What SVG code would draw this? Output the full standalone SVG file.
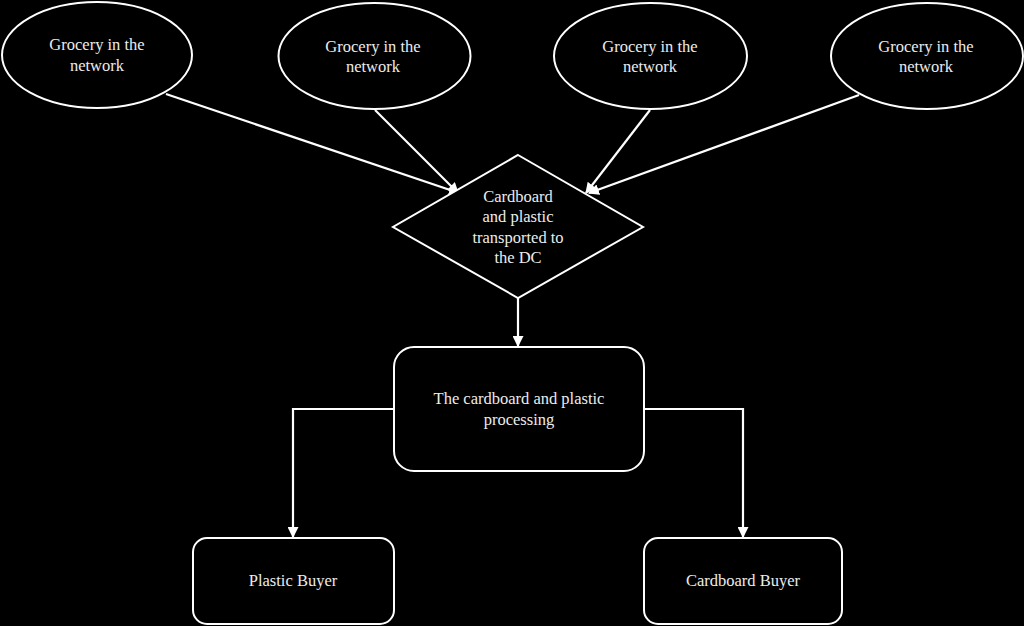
<svg xmlns="http://www.w3.org/2000/svg" width="1024" height="626" viewBox="0 0 1024 626">
<style>
.shape{fill:#000;stroke:#fff;stroke-width:2}
.conn{fill:none;stroke:#fff;stroke-width:2.2}
text{font-family:"Liberation Serif","Times New Roman",serif;font-size:16.5px;fill:#ececec;text-anchor:middle}
</style>
<defs>
<marker id="arr" viewBox="0 0 10 10" refX="9" refY="5" markerWidth="5" markerHeight="5" orient="auto" markerUnits="strokeWidth">
<path d="M0,0 L10,5 L0,10 z" fill="#fff"/>
</marker>
</defs>
<rect width="1024" height="626" fill="#000"/>
<g id="connectors">
<path class="conn" d="M166,94 L459,193" marker-end="url(#arr)"/>
<path class="conn" d="M375,110 L458,193" marker-end="url(#arr)"/>
<path class="conn" d="M650,110 L586,193" marker-end="url(#arr)"/>
<path class="conn" d="M859,95 L589,193" marker-end="url(#arr)"/>
<path class="conn" d="M518,298 L518,346" marker-end="url(#arr)"/>
<path class="conn" d="M393,409 L293,409 L293,537" marker-end="url(#arr)"/>
<path class="conn" d="M645,409 L743,409 L743,537" marker-end="url(#arr)"/>
</g>
<g id="grocery1">
<ellipse class="shape" cx="97" cy="55" rx="95" ry="53"/>
<text x="97" y="50">Grocery  in the</text>
<text x="97" y="71">network</text>
</g>
<g id="grocery2">
<ellipse class="shape" cx="374.5" cy="56" rx="96" ry="53"/>
<text x="373" y="52">Grocery  in the</text>
<text x="373" y="72">network</text>
</g>
<g id="grocery3">
<ellipse class="shape" cx="650.5" cy="56" rx="96.5" ry="53"/>
<text x="650" y="52">Grocery  in the</text>
<text x="650" y="72">network</text>
</g>
<g id="grocery4">
<ellipse class="shape" cx="927" cy="56" rx="96" ry="53"/>
<text x="926" y="52">Grocery  in the</text>
<text x="926" y="72">network</text>
</g>
<g id="transport">
<polygon class="shape" points="518,155 643,227 518,298 393,227"/>
<text x="518" y="202">Cardboard</text>
<text x="518" y="222">and plastic</text>
<text x="518" y="243">transported to</text>
<text x="518" y="263">the DC</text>
</g>
<g id="processing">
<rect class="shape" x="394" y="347" width="250" height="124" rx="20"/>
<text x="519" y="404">The  cardboard and plastic</text>
<text x="519" y="425">processing</text>
</g>
<g id="plastic-buyer">
<rect class="shape" x="193" y="538" width="201" height="86" rx="14"/>
<text x="293" y="586">Plastic Buyer</text>
</g>
<g id="cardboard-buyer">
<rect class="shape" x="644" y="538" width="198" height="86" rx="14"/>
<text x="743" y="586">Cardboard Buyer</text>
</g>
</svg>
